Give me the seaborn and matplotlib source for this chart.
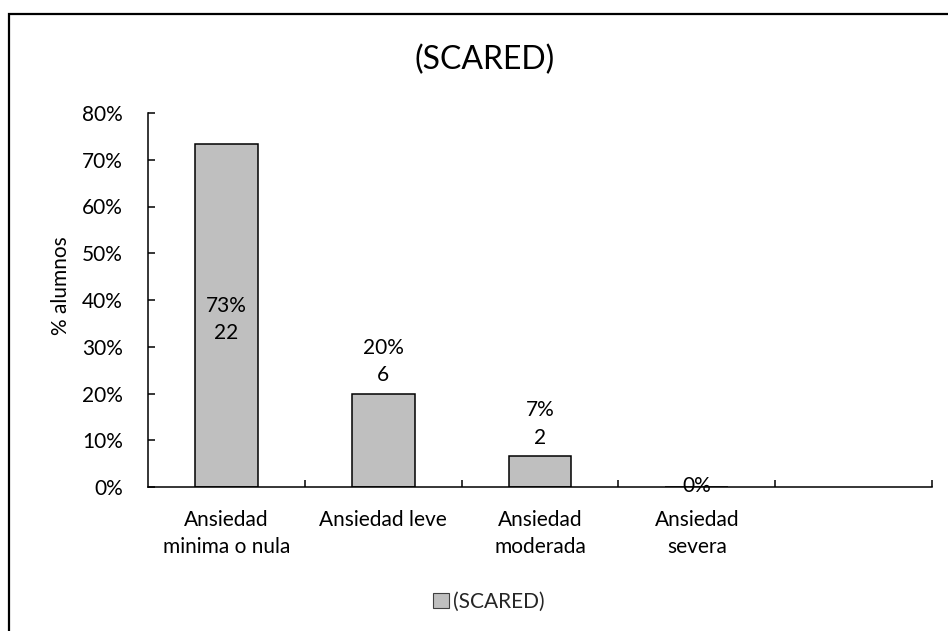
import matplotlib
matplotlib.use("Agg")
import matplotlib.pyplot as plt
import matplotlib.ticker as mticker
from matplotlib.patches import Rectangle, Patch
import pandas as pd
import seaborn as sns

# Data
categories = ["Ansiedad\nminima o nula", "Ansiedad leve", "Ansiedad\nmoderada", "Ansiedad\nsevera"]
counts = [22, 6, 2, 0]
total_students = 30
percents = [c / total_students for c in counts]
series_name = "(SCARED)"
y_ticks = [0.0, 0.1, 0.2, 0.3, 0.4, 0.5, 0.6, 0.7, 0.8]

sns.set_theme(style="white")
plt.rcParams["font.family"] = ["Lato", "DejaVu Sans"]

W, H = 948, 631
fig = plt.figure(figsize=(W / 100, H / 100), dpi=100)
fig.patch.set_facecolor("white")

# Plot area in pixel coordinates
left_px, right_px, top_px, bottom_px = 148, 932, 113, 487
ax = fig.add_axes([left_px / W, 1 - bottom_px / H,
                   (right_px - left_px) / W, (bottom_px - top_px) / H])
ax.set_facecolor("white")

df = pd.DataFrame({"categoria": categories, "pct": percents})
sns.barplot(data=df, x="categoria", y="pct", ax=ax, color="#BFBFBF",
            saturation=1, edgecolor="black", linewidth=1.1, width=0.4)

ax.set_xlim(-0.5, len(categories) + 0.5)
ax.set_ylim(0, 0.8)
ax.set_yticks(y_ticks)
ax.yaxis.set_major_formatter(mticker.PercentFormatter(1.0, decimals=0))
ax.set_xticks(range(len(categories)))
ax.set_xticklabels(categories, linespacing=1.45)
ax.set_xticks([i + 0.5 for i in range(len(categories) + 1)], minor=True)

ax.tick_params(axis="x", which="major", length=0, pad=16.5, labelsize=15, colors="black")
ax.tick_params(axis="x", which="minor", direction="in", length=5, width=1.1,
               color="black", bottom=True)
ax.tick_params(axis="y", which="major", direction="in", length=5, width=1.1,
               color="black", labelsize=15, pad=18, left=True)
for lbl in ax.get_yticklabels():
    lbl.set_color("black")

for side in ("top", "right"):
    ax.spines[side].set_visible(False)
for side in ("left", "bottom"):
    ax.spines[side].set_color("black")
    ax.spines[side].set_linewidth(1.1)

ax.set_xlabel("")
ax.set_ylabel("")
fig.text(61 / W, 1 - 286 / H, "% alumnos", rotation=90, ha="center", va="center",
         fontsize=15, color="black")

# Data labels: percentage and count
for i, (p, c) in enumerate(zip(percents, counts)):
    pct_txt = f"{p * 100:.0f}%"
    if c == 0:
        ax.annotate(pct_txt, (i, p), xytext=(0, 1), textcoords="offset points",
                    ha="center", va="center", fontsize=15, color="black")
    elif p > 0.4:
        ax.annotate(f"{pct_txt}\n{c}", (i, p / 2), xytext=(0, -3), textcoords="offset points",
                    ha="center", va="center", fontsize=15, color="black", linespacing=1.45)
    else:
        ax.annotate(f"{pct_txt}\n{c}", (i, p), xytext=(0, 6), textcoords="offset points",
                    ha="center", va="bottom", fontsize=15, color="black", linespacing=1.45)

fig.text(485 / W, 1 - 60 / H, series_name, ha="center", va="center", fontsize=23, color="black")

handle = Patch(facecolor="#BFBFBF", edgecolor="#404040", linewidth=0.8)
fig.legend([handle], [series_name], loc="center", bbox_to_anchor=(489 / W, 1 - 602 / H),
           frameon=False, fontsize=15, handlelength=0.75, handleheight=0.75,
           handletextpad=0.2, borderpad=0)

# Chart area frame
fig.add_artist(Rectangle((9 / W, -0.2), 1.2, 1.2 - 14 / H, transform=fig.transFigure,
                         fill=False, edgecolor="black", linewidth=1.6, clip_on=False))

fig.savefig("out.png", dpi=100, facecolor="white")
